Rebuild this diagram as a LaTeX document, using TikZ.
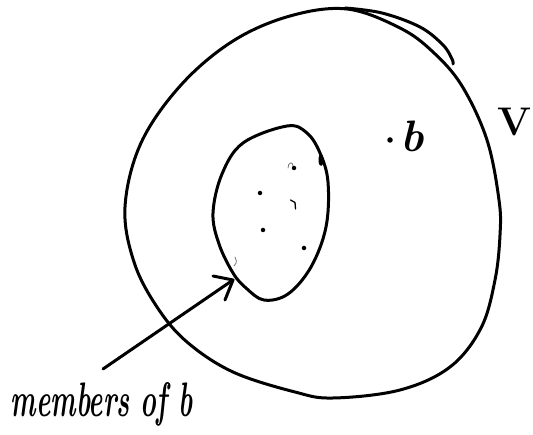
\documentclass[tikz,border=0pt]{standalone}
\usetikzlibrary{calc}
\begin{document}
\begin{tikzpicture}[x=1pt,y=-1pt,
  pen/.style={line width=3pt,line cap=round,line join=round},
  thinpen/.style={line width=0.7pt,draw=black!60,line cap=round},
  speck/.style={circle,fill=black,inner sep=0pt,minimum size=4.5pt}]
\useasboundingbox (0,0) rectangle (533,435);
% outer set V
\draw[pen] plot[smooth cycle,tension=0.6] coordinates {
 (347,9) (400,28) (433,52) (462,86) (487,140) (499,200) (500,235) (495,280)
 (481,328) (450,367) (400,390) (333,398) (295,392) (233,372) (187,342)
 (157,307) (134,262) (125,207) (141,143) (181,85) (233,41) (290,16)};
% overlapping stroke at the top right
\draw[pen] plot[smooth,tension=0.6] coordinates {
 (345,8) (382,13) (420,27) (443,45) (452,59) (453,64)};
% inner set
\draw[pen] plot[smooth cycle,tension=0.6] coordinates {
 (287,126) (307,133) (320,153) (328,182) (326,227) (311,267) (288,294)
 (264,300) (246,288) (233,273) (219,244) (213,213) (222,174) (243,143)};
\fill (321,160) ellipse (2.5pt and 6pt);
% members
\node[speck] (m1) at (260,193) {};
\node[speck] (m2) at (263,230) {};
\node[speck] (m3) at (304,248) {};
\node[speck] (m4) at (294,168) {};
\draw[thinpen] (288,168) .. controls (288,162) and (293,161) .. (293,166);
\draw[line width=1.3pt,line cap=round] (290.5,200) -- (295,202.5) -- (295.5,209);
\draw[thinpen] (234,266) .. controls (238,262) and (236,259) .. (235,257);
% element b
\node[speck,minimum size=5.5pt] (pb) at (390,140) {};
\node[font=\fontsize{44}{44}\selectfont\bfseries\itshape] (lb) at (412,136) {b};
% universe V
\node[font=\fontsize{40}{40}\selectfont\bfseries,anchor=east,inner sep=0pt] (lV) at (532,122) {V};
% label and arrow
\node[inner sep=0pt] (lm) at (102,404) {\resizebox{182pt}{34pt}{\bfseries\itshape members of b}};
\coordinate (as) at (103,369);
\coordinate (tip) at (233,280);
\draw[pen] (as) -- (tip);
\draw[pen] ($(tip)+(-20,-4)$) -- (tip) -- ($(tip)+(-8,20)$);
\end{tikzpicture}
\end{document}
